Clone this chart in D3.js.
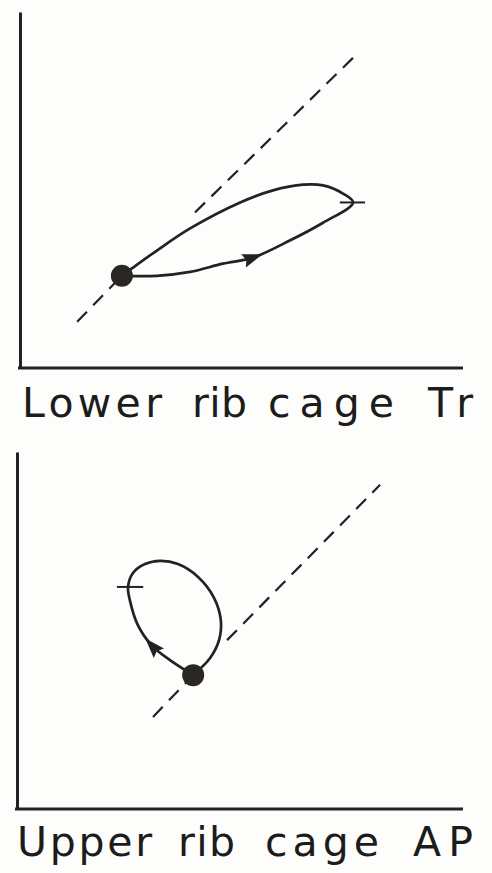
<!DOCTYPE html>
<html>
<head>
<meta charset="utf-8">
<script src="https://cdn.jsdelivr.net/npm/d3@7"></script>
<style>
  body { margin: 0; background: #fdfdfb; }
  svg { display: block; }
</style>
</head>
<body>
<svg id="chart" width="492" height="873"></svg>
<script>
var width = 492;
var height = 873;
var ink = "#222";

// top panel, lower rib cage transverse (units 0-100 on both axes)
var lowerLoopX = [23.0, 30.9, 38.4, 45.8, 52.6, 60.9, 68.4, 75.2, 72.9, 68.4, 63.9, 57.1, 49.7, 38.4, 30.9, 25.5, 23.0];
var lowerLoopY = [25.9, 25.9, 27.0, 29.3, 31.0, 35.8, 40.8, 46.5, 49.0, 51.3, 51.5, 49.9, 46.5, 39.2, 33.0, 28.2, 25.9];
var lowerDot = [23.0, 25.9];
var lowerDashX = [[12.9, 23.0], [39.5, 76.3]];
var lowerDashY = [[13.0, 25.9], [43.7, 88.5]];
var lowerTick = [72.2, 77.9, 46.5];
var lowerArrowAt = 4;

// bottom panel, upper rib cage AP
var upperLoopX = [39.5, 34.3, 30.3, 27.1, 25.3, 24.9, 26.0, 28.7, 32.1, 36.1, 40.6, 44.2, 45.7, 45.3, 43.3, 39.5];
var upperLoopY = [37.5, 41.7, 45.7, 51.5, 58.5, 62.2, 66.1, 68.6, 69.5, 68.6, 65.0, 59.1, 52.9, 47.3, 42.3, 37.5];
var upperDot = [39.5, 37.5];
var upperDashX = [[30.5, 39.5], [47.1, 81.4]];
var upperDashY = [[25.8, 37.5], [47.3, 90.8]];
var upperTick = [22.4, 28.3, 62.2];
var upperArrowAt = 2;

var labels = ["Lower rib cage Tr", "Upper rib cage AP"];

var panels = [
    { left: 20, right: 463, top: 12, bottom: 368, labelY: 417,
      wordSpans: [[22, 162], [192, 247], [268, 394], [428, 473]],
      loopX: lowerLoopX, loopY: lowerLoopY, dot: lowerDot, dashX: lowerDashX, dashY: lowerDashY,
      tick: lowerTick, arrowAt: lowerArrowAt, label: labels[0] },
    { left: 17, right: 463, top: 452, bottom: 809, labelY: 856,
      wordSpans: [[17, 152], [178, 235], [265, 379], [413, 473]],
      loopX: upperLoopX, loopY: upperLoopY, dot: upperDot, dashX: upperDashX, dashY: upperDashY,
      tick: upperTick, arrowAt: upperArrowAt, label: labels[1] }
];

var svg = d3.select("#chart");

panels.forEach(function (p) {
    var x = d3.scaleLinear().domain([0, 100]).range([p.left, p.right]);
    var y = d3.scaleLinear().domain([0, 100]).range([p.bottom, p.top]);
    var g = svg.append("g");

    // axes without ticks, just the two lines
    var ax = g.append("g")
        .attr("transform", "translate(0," + p.bottom + ")")
        .call(d3.axisBottom(x).ticks(0).tickSizeOuter(0));
    var ay = g.append("g")
        .attr("transform", "translate(" + p.left + ",0)")
        .call(d3.axisLeft(y).ticks(0).tickSizeOuter(0));
    [ax, ay].forEach(function (a) {
        a.select(".domain").attr("stroke", ink).attr("stroke-width", 3);
    });
    ax.select(".domain").attr("d", "M" + (p.left - 2) + ",0H" + p.right);

    // dashed line, broken where the loop sits
    p.dashX.forEach(function (dx, i) {
        g.append("line")
            .attr("x1", x(dx[0])).attr("y1", y(p.dashY[i][0]))
            .attr("x2", x(dx[1])).attr("y2", y(p.dashY[i][1]))
            .attr("stroke", ink)
            .attr("stroke-width", 2.2)
            .attr("stroke-dasharray", "14,9");
    });

    var pts = p.loopX.map(function (v, i) { return [v, p.loopY[i]]; });
    var line = d3.line()
        .x(function (d) { return x(d[0]); })
        .y(function (d) { return y(d[1]); })
        .curve(d3.curveCatmullRom.alpha(0.5));

    g.append("path")
        .attr("d", line(pts))
        .attr("fill", "none")
        .attr("stroke", ink)
        .attr("stroke-width", 2.7);

    // small tick at the end of the loop
    g.append("line")
        .attr("x1", x(p.tick[0])).attr("x2", x(p.tick[1]))
        .attr("y1", y(p.tick[2])).attr("y2", y(p.tick[2]))
        .attr("stroke", ink)
        .attr("stroke-width", 2);

    // arrowhead along the loop
    var a = pts[p.arrowAt];
    var prev = pts[p.arrowAt - 1];
    var next = pts[p.arrowAt + 1];
    var ang = Math.atan2(y(next[1]) - y(prev[1]), x(next[0]) - x(prev[0])) * 180 / Math.PI;
    g.append("path")
        .attr("d", "M10,0L-10,-7L-7,0L-10,7Z")
        .attr("transform", "translate(" + x(a[0]) + "," + y(a[1]) + ") rotate(" + ang + ")")
        .attr("fill", ink);

    // start point
    g.append("circle")
        .attr("cx", x(p.dot[0]))
        .attr("cy", y(p.dot[1]))
        .attr("r", 11)
        .attr("fill", "#2a2624");

    // label: each word stretched over its own span, as in the scan
    var words = p.label.split(" ");
    var t = g.append("text")
        .attr("y", p.labelY)
        .style("font-family", "'DejaVu Sans', sans-serif")
        .style("font-size", "41px")
        .style("fill", "#1c1c1c");
    words.forEach(function (wd, i) {
        var s = p.wordSpans[i];
        t.append("tspan")
            .attr("x", s[0])
            .attr("textLength", s[1] - s[0])
            .attr("lengthAdjust", "spacing")
            .text(wd);
    });
});
</script>
</body>
</html>
